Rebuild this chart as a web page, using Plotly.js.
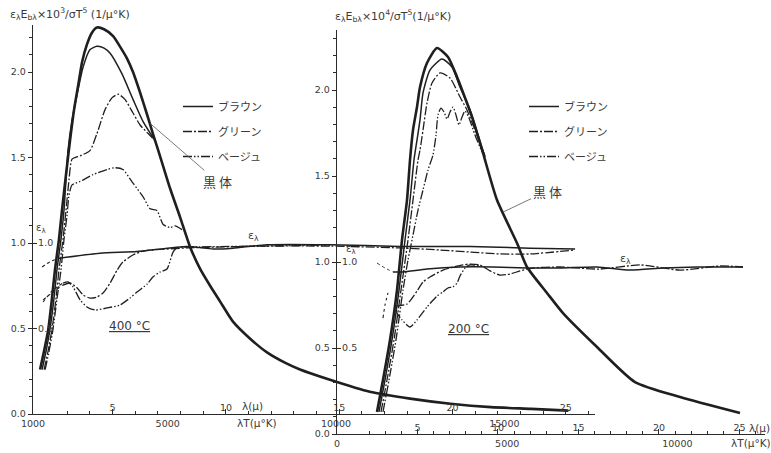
<!DOCTYPE html>
<html><head><meta charset="utf-8">
<script src="https://cdn.plot.ly/plotly-3.0.1.min.js"></script>
<style>html,body{margin:0;padding:0;background:#fff}#chart{width:771px;height:453px}</style>
</head><body><div id="chart"></div>
<script>
// ---------------- DATA ----------------
// Left panel: 400 °C, x = λT (μ°K), y = ελEbλ/σT^5 or ελ
const L_bb_x = [1210,1330,1450,1560,1650,1770,1860,1980,2100,2220,2340,2460,2600,2750,2900,3110,3380,3580,3790,3970,4180,4390,4560,4770,5070,5370,5660,5960,6260,6550,6940,7450,7950,8480,8930,9820,11000,12200,13400,14600,15800,16900];
const L_bb_y = [0.26,0.37,0.49,0.67,0.84,1.02,1.19,1.40,1.60,1.78,1.92,2.06,2.16,2.23,2.26,2.25,2.21,2.15,2.08,2.00,1.88,1.75,1.64,1.51,1.32,1.15,0.98,0.85,0.75,0.66,0.54,0.44,0.36,0.30,0.26,0.20,0.13,0.09,0.06,0.04,0.03,0.02];
const L_brown_x = [1270,1390,1500,1620,1710,1830,1920,1980,2040,2160,2280,2490,2690,2900,3110,3290,3640,3970,4270,4620];
const L_brown_y = [0.26,0.37,0.49,0.67,0.84,1.02,1.19,1.37,1.54,1.72,1.84,2.03,2.13,2.15,2.14,2.11,1.99,1.84,1.71,1.60];
const L_green_x = [1330,1450,1560,1680,1770,1890,1980,2070,2160,2400,2690,2900,3140,3350,3530,3730,3970,4180,4420,4620];
const L_green_y = [0.26,0.37,0.49,0.67,0.84,1.02,1.19,1.37,1.49,1.51,1.54,1.64,1.78,1.85,1.87,1.84,1.76,1.69,1.64,1.60];
const L_beige_x = [1360,1480,1590,1710,1830,1920,2010,2070,2160,2400,2780,3200,3440,3670,3970,4270,4480,4680,4860,5070,5220,5490];
const L_beige_y = [0.26,0.37,0.49,0.67,0.84,1.02,1.16,1.28,1.34,1.36,1.40,1.43,1.44,1.43,1.35,1.27,1.20,1.19,1.11,1.09,1.10,1.07];
const L_eBrown_dot_x = [1270,1500,1740];
const L_eBrown_dot_y = [0.86,0.89,0.91];
const L_eBrown_x = [1740,2990,4090,5570,6350,6940,7950,9820,11900,13980,15760,17100];
const L_eBrown_y = [0.91,0.94,0.95,0.98,0.965,0.97,0.99,0.99,0.98,0.98,0.97,0.965];
const L_eGreen_dot_x = [1300,1590,1890];
const L_eGreen_dot_y = [0.667,0.713,0.754];
const L_eGreen_x = [1890,2100,2310,2490,2690,2900,3080,3290,3500,3670,3970,4270,5570,7950,9820,11900,13090,13980,14870,15760,17100];
const L_eGreen_y = [0.754,0.766,0.737,0.696,0.678,0.684,0.708,0.766,0.842,0.889,0.930,0.953,0.971,0.982,0.982,0.971,0.959,0.947,0.936,0.936,0.959];
const L_eBeige_dot_x = [1300,1590,1890];
const L_eBeige_dot_y = [0.655,0.725,0.766];
const L_eBeige_x = [1890,2040,2190,2400,2600,2840,3200,3580,3880,4090,4390,4560,4770,4980,5160,5280,5960,7740,9820];
const L_eBeige_y = [0.766,0.772,0.743,0.667,0.626,0.608,0.620,0.637,0.678,0.713,0.760,0.801,0.830,0.848,0.947,0.971,0.977,0.982,0.988];

// Right panel: 200 °C, x = λT (μ°K)
const R_bb_x = [1175,1351,1557,1763,1910,2057,2145,2233,2350,2439,2644,2938,3261,3526,3819,3996,4289,4701,5288,5582,6170,6640,7639,8755,10077,11840];
const R_bb_y = [0.128,0.314,0.547,0.837,1.128,1.360,1.593,1.767,1.901,2.017,2.157,2.244,2.192,2.076,1.924,1.826,1.634,1.360,1.110,0.971,0.820,0.703,0.506,0.302,0.215,0.122];
const R_brown_x = [1234,1410,1616,1822,1998,2145,2262,2350,2439,2527,2732,3085,3379,3614,3908,4143,4348];
const R_brown_y = [0.128,0.314,0.547,0.837,1.128,1.360,1.593,1.709,1.826,1.983,2.116,2.180,2.134,2.017,1.884,1.738,1.61];
const R_green_x = [1293,1469,1675,1880,2086,2233,2380,2439,2527,2644,2791,3026,3320,3614,3819,4054,4348];
const R_green_y = [0.128,0.314,0.547,0.837,1.128,1.360,1.593,1.651,1.767,1.924,2.041,2.099,2.070,1.959,1.884,1.767,1.616];
const R_beige_x = [1351,1528,1733,1939,2086,2233,2380,2527,2674,2820,2909,2967,3056,3144,3232,3320,3408,3496,3584,3673,3761,3878,4054,4260];
const R_beige_y = [0.128,0.314,0.547,0.837,1.012,1.157,1.302,1.419,1.535,1.622,1.738,1.855,1.895,1.872,1.831,1.872,1.901,1.855,1.797,1.843,1.878,1.837,1.738,1.640];
const R_eBrown_dot_x = [1175,1410,1645];
const R_eBrown_dot_y = [0.994,0.965,0.942];
const R_eBrown_x = [1645,1939,2644,3614,4583,5582,6552,7639,8608,9578,10577,11928];
const R_eBrown_y = [0.942,0.942,0.959,0.971,0.971,0.965,0.965,0.971,0.953,0.965,0.971,0.971];
const R_eGreen_x = [1704,2057,2350,2527,2732,3114,3408,3702,3908,4201,4495,4789,5083,5377,5758,6552,7727,8902,10077,11253,11928];
const R_eGreen_y = [0.744,0.756,0.831,0.884,0.913,0.953,0.971,0.983,0.988,0.983,0.948,0.924,0.930,0.948,0.965,0.971,0.959,0.983,0.953,0.977,0.971];
const R_eBeige_dot_x = [1351,1410,1498];
const R_eBeige_dot_y = [0.674,0.750,0.820];
const R_eBeige_x = [1704,1910,2145,2350,2644,2938,3114,3261,3408,3526,3614,3761,3908,4201];
const R_eBeige_y = [0.721,0.663,0.622,0.663,0.738,0.802,0.826,0.849,0.855,0.878,0.919,0.965,0.983,0.977];

// Tick labels
const L_lamT_ticks = [1000,5000,10000,15000];
const R_lamT_ticks = [0,5000,10000];
const lam_ticks = [5,10,15,20,25];
const y_ticks = [0,0.5,1.0,1.5,2.0];
const y_ticktext = ['0.0','0.5','1.0','1.5','2.0'];
const eps_ticks = [0.5,1.0];
const eps_ticktext = ['0.5','1.0'];
const series_names = ['ブラウン','グリーン','ベージュ'];

// ---------------- STYLE / LAYOUT ----------------
const W = 771, H = 453;
const T400 = 673, T200 = 473;
const INK = '#1f1f1f', TXT = '#3a3a3a';
const NUMFONT = {family:'DejaVu Sans, sans-serif', size:9.5, color:TXT};
const JPFONT = 'Noto Sans CJK JP, sans-serif';
const DASH_G = '9px,2px,2px,2px';
const DASH_E = '9px,2px,1.5px,2px,1.5px,2px';

function tr(x, y, xa, ya, width, dash, extra) {
  return Object.assign({
    type:'scatter', mode:'lines', x:x, y:y, xaxis:xa, yaxis:ya,
    line:{color:INK, width:width, dash:dash, shape:'spline', smoothing:0.6},
    showlegend:false, hoverinfo:'skip'
  }, extra || {});
}

const traces = [
  // left
  tr(L_bb_x, L_bb_y, 'x', 'y', 2.6, 'solid'),
  tr(L_brown_x, L_brown_y, 'x', 'y', 1.5, 'solid', {name:series_names[0], showlegend:true, legend:'legend', legendgroup:'L1'}),
  tr(L_green_x, L_green_y, 'x', 'y', 1.3, DASH_G, {name:series_names[1], showlegend:true, legend:'legend', legendgroup:'L2'}),
  tr(L_beige_x, L_beige_y, 'x', 'y', 1.3, DASH_E, {name:series_names[2], showlegend:true, legend:'legend', legendgroup:'L3'}),
  tr(L_eBrown_dot_x, L_eBrown_dot_y, 'x', 'y', 1.1, 'dot'),
  tr(L_eBrown_x, L_eBrown_y, 'x', 'y', 1.5, 'solid'),
  tr(L_eGreen_dot_x, L_eGreen_dot_y, 'x', 'y', 1.1, 'dot'),
  tr(L_eGreen_x, L_eGreen_y, 'x', 'y', 1.3, DASH_G),
  tr(L_eBeige_dot_x, L_eBeige_dot_y, 'x', 'y', 1.1, 'dot'),
  tr(L_eBeige_x, L_eBeige_y, 'x', 'y', 1.3, DASH_E),
  // right
  tr(R_bb_x, R_bb_y, 'x3', 'y3', 2.6, 'solid'),
  tr(R_brown_x, R_brown_y, 'x3', 'y3', 1.5, 'solid', {name:series_names[0], showlegend:true, legend:'legend2', legendgroup:'R1'}),
  tr(R_green_x, R_green_y, 'x3', 'y3', 1.3, DASH_G, {name:series_names[1], showlegend:true, legend:'legend2', legendgroup:'R2'}),
  tr(R_beige_x, R_beige_y, 'x3', 'y3', 1.3, DASH_E, {name:series_names[2], showlegend:true, legend:'legend2', legendgroup:'R3'}),
  tr(R_eBrown_dot_x, R_eBrown_dot_y, 'x3', 'y3', 0.9, 'dot'),
  tr(R_eBrown_x, R_eBrown_y, 'x3', 'y3', 1.5, 'solid'),
  tr(R_eGreen_x, R_eGreen_y, 'x3', 'y3', 1.3, DASH_G),
  tr(R_eBeige_dot_x, R_eBeige_dot_y, 'x3', 'y3', 1.1, 'dot'),
  tr(R_eBeige_x, R_eBeige_y, 'x3', 'y3', 1.3, DASH_E),
  // empty traces to realise the overlay axes
  {type:'scatter', x:[], y:[], xaxis:'x2', yaxis:'y2', showlegend:false, hoverinfo:'skip'},
  {type:'scatter', x:[], y:[], xaxis:'x4', yaxis:'y4', showlegend:false, hoverinfo:'skip'}
];

const px = v => v / W, py = v => 1 - v / H;
const LX0 = 33, LX1 = 595, LY0 = 414, LY1 = 25, LSC = 171;
const RX0 = 337, RX1 = 765, RY0 = 434, RY1 = 30, RSC = 172;
const L_lamT_range = [1000, 1000 + (LX1 - LX0) * 29.70];
const R_lamT_range = [0, (RX1 - RX0) * 29.38];

const axBase = {showgrid:false, zeroline:false, showline:true, linecolor:'#2a2a2a', linewidth:1.2, tickcolor:'#2a2a2a', tickfont:NUMFONT, fixedrange:true};
const axOver = {showgrid:false, zeroline:false, showline:false, tickcolor:'#2a2a2a', tickfont:NUMFONT, fixedrange:true};

function note(xp, yp, text, size, fam) {
  return {xref:'paper', yref:'paper', x:px(xp), y:py(yp), xanchor:'center', yanchor:'middle', showarrow:false,
    text:text, font:{family:fam || 'DejaVu Sans, sans-serif', size:size, color:TXT}};
}

const layout = {
  width:W, height:H, margin:{l:0,r:0,t:0,b:0},
  paper_bgcolor:'#ffffff', plot_bgcolor:'rgba(0,0,0,0)',
  xaxis: Object.assign({}, axBase, {domain:[px(LX0), px(LX1)], range:L_lamT_range, anchor:'y',
    tickmode:'array', tickvals:L_lamT_ticks, ticktext:L_lamT_ticks.map(String), ticks:''}),
  xaxis2: Object.assign({}, axOver, {overlaying:'x', anchor:'y', side:'bottom',
    range:[L_lamT_range[0]/T400, L_lamT_range[1]/T400],
    tickmode:'array', tickvals:lam_ticks, ticktext:lam_ticks.map(String),
    ticks:'inside', ticklen:5, ticklabelposition:'inside', ticklabelstandoff:-5,
    minor:{tickmode:'linear', tick0:0, dtick:1, ticks:'inside', ticklen:3, tickcolor:'#2a2a2a'}}),
  yaxis: Object.assign({}, axBase, {domain:[1-LY0/H, 1-LY1/H], range:[0,(LY0-LY1)/LSC], anchor:'x',
    tickmode:'array', tickvals:y_ticks, ticktext:y_ticktext, ticks:'outside', ticklen:4,
    minor:{tickmode:'linear', tick0:0, dtick:0.1, ticks:'outside', ticklen:2.5, tickcolor:'#2a2a2a'}}),
  yaxis2: Object.assign({}, axOver, {overlaying:'y', anchor:'x', side:'left', range:[0,(LY0-LY1)/LSC],
    tickmode:'array', tickvals:eps_ticks, ticktext:eps_ticktext, ticks:'inside', ticklen:4, ticklabelposition:'inside'}),
  xaxis3: Object.assign({}, axBase, {domain:[px(RX0), px(RX1)], range:R_lamT_range, anchor:'y3',
    tickmode:'array', tickvals:R_lamT_ticks, ticktext:R_lamT_ticks.map(String), ticks:''}),
  xaxis4: Object.assign({}, axOver, {overlaying:'x3', anchor:'y3', side:'bottom',
    range:[R_lamT_range[0]/T200, R_lamT_range[1]/T200],
    tickmode:'array', tickvals:lam_ticks, ticktext:lam_ticks.map(String),
    ticks:'inside', ticklen:5, ticklabelposition:'inside', ticklabelstandoff:-5,
    minor:{tickmode:'linear', tick0:0, dtick:1, ticks:'inside', ticklen:3, tickcolor:'#2a2a2a'}}),
  yaxis3: Object.assign({}, axBase, {domain:[1-RY0/H, 1-RY1/H], range:[0,(RY0-RY1)/RSC], anchor:'x3',
    tickmode:'array', tickvals:y_ticks, ticktext:y_ticktext, ticks:'outside', ticklen:4,
    minor:{tickmode:'linear', tick0:0, dtick:0.1, ticks:'outside', ticklen:2.5, tickcolor:'#2a2a2a'}}),
  yaxis4: Object.assign({}, axOver, {overlaying:'y3', anchor:'x3', side:'left', range:[0,(RY0-RY1)/RSC],
    tickmode:'array', tickvals:eps_ticks, ticktext:eps_ticktext, ticks:'inside', ticklen:4, ticklabelposition:'inside'}),
  legend: {x:px(178), xanchor:'left', y:py(92), yanchor:'top', bgcolor:'rgba(0,0,0,0)',
    font:{family:JPFONT, size:11, color:TXT}, tracegroupgap:6, traceorder:'grouped'},
  legend2: {x:px(524), xanchor:'left', y:py(92), yanchor:'top', bgcolor:'rgba(0,0,0,0)',
    font:{family:JPFONT, size:11, color:TXT}, tracegroupgap:6, traceorder:'grouped'},
  annotations: [
    {xref:'paper', yref:'paper', x:px(8), y:py(14), xanchor:'left', yanchor:'middle', showarrow:false,
      text:'ε<sub>λ</sub>E<sub>bλ</sub>×10<sup>3</sup>/σT<sup>5</sup> (1/μ°K)', font:{family:'DejaVu Sans, sans-serif', size:11, color:TXT}},
    {xref:'paper', yref:'paper', x:px(333), y:py(16), xanchor:'left', yanchor:'middle', showarrow:false,
      text:'ε<sub>λ</sub>E<sub>bλ</sub>×10<sup>4</sup>/σT<sup>5</sup>(1/μ°K)', font:{family:'DejaVu Sans, sans-serif', size:11, color:TXT}},
    note(41, 228, 'ε<sub>λ</sub>', 10),
    note(351, 249, 'ε<sub>λ</sub>', 10),
    note(253, 236, 'ε<sub>λ</sub>', 11),
    note(625, 259, 'ε<sub>λ</sub>', 11),
    note(129, 326, '<u>400 °C</u>', 12),
    note(469, 329, '<u>200 °C</u>', 12),
    note(252, 406, 'λ(μ)', 10.5),
    note(257, 423, 'λT(μ°K)', 10.5),
    note(759, 428, 'λ(μ)', 10.5),
    note(751, 443, 'λT(μ°K)', 10.5),
    {xref:'x', yref:'y', x:4475, y:1.70, ax:67, ay:58, showarrow:true, arrowhead:0, arrowwidth:0.8, arrowcolor:'#555',
      text:'黒 体', font:{family:JPFONT, size:13, color:TXT}},
    {xref:'x3', yref:'y3', x:4877, y:1.29, ax:44, ay:-21, showarrow:true, arrowhead:0, arrowwidth:0.8, arrowcolor:'#555',
      text:'黒 体', font:{family:JPFONT, size:13, color:TXT}}
  ]
};

Plotly.newPlot('chart', traces, layout, {staticPlot:true, displayModeBar:false});
</script></body></html>
